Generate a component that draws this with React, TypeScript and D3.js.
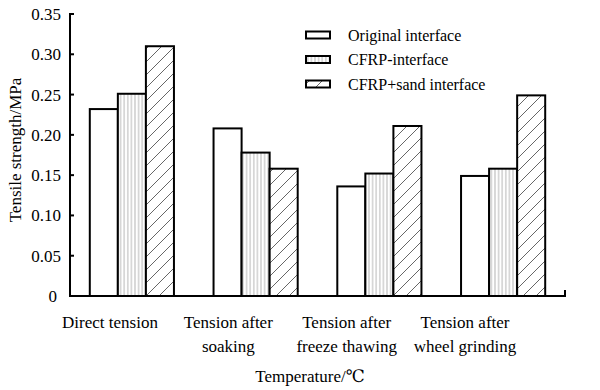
import React, { useEffect, useRef } from 'react';
import * as d3 from 'd3';

const categories = [
  ['Direct tension'],
  ['Tension after', 'soaking'],
  ['Tension after', 'freeze thawing'],
  ['Tension after', 'wheel grinding'],
];
const seriesNames = ['Original interface', 'CFRP-interface', 'CFRP+sand interface'];
const original = [0.232, 0.208, 0.136, 0.149];
const cfrp = [0.251, 0.178, 0.152, 0.158];
const cfrpSand = [0.31, 0.158, 0.211, 0.249];
const yTicks = [0, 0.05, 0.1, 0.15, 0.2, 0.25, 0.3, 0.35];

const W = 600;
const H = 390;
const FONT = "'Liberation Serif', 'DejaVu Serif', Times, serif";

export default function App() {
  const svgRef = useRef<SVGSVGElement>(null);

  useEffect(() => {
    if (!svgRef.current) return;
    const svg = d3.select(svgRef.current);
    svg.selectAll('*').remove();

    const left = 70, right = 565, top = 14, bottom = 296;
    const series = [original, cfrp, cfrpSand];
    const fills = ['#fff', 'url(#vlines)', 'url(#diag)'];

    // patterns for bar fills
    const defs = svg.append('defs');
    const vp = defs.append('pattern')
      .attr('id', 'vlines')
      .attr('patternUnits', 'userSpaceOnUse')
      .attr('width', 3.6).attr('height', 10);
    vp.append('rect').attr('width', 3.6).attr('height', 10).attr('fill', '#fff');
    vp.append('line')
      .attr('x1', 1.8).attr('y1', 0).attr('x2', 1.8).attr('y2', 10)
      .attr('stroke', '#aaa').attr('stroke-width', 0.9);

    const dp = defs.append('pattern')
      .attr('id', 'diag')
      .attr('patternUnits', 'userSpaceOnUse')
      .attr('width', 13).attr('height', 13);
    dp.append('rect').attr('width', 13).attr('height', 13).attr('fill', '#fff');
    dp.append('path')
      .attr('d', 'M-3,3 L3,-3 M0,13 L13,0 M10,16 L16,10')
      .attr('stroke', '#555').attr('stroke-width', 0.9);

    const x0 = d3.scaleBand<number>()
      .domain(d3.range(categories.length))
      .range([left, right])
      .paddingInner(0.32)
      .paddingOuter(0.16);
    const x1 = d3.scaleBand<number>()
      .domain(d3.range(series.length))
      .range([0, x0.bandwidth()]);
    const y = d3.scaleLinear().domain([0, 0.35]).range([bottom, top]);
    // category labels sit a little left of their bar groups in the original
    const xLabel = d3.scalePoint<number>()
      .domain(d3.range(categories.length))
      .range([110, 465]);

    // bars
    series.forEach((vals, si) => {
      svg.append('g')
        .selectAll('rect')
        .data(vals)
        .join('rect')
        .attr('x', (_, i) => (x0(i) as number) + (x1(si) as number))
        .attr('y', d => y(d))
        .attr('width', x1.bandwidth())
        .attr('height', d => bottom - y(d))
        .attr('fill', fills[si])
        .attr('stroke', '#000')
        .attr('stroke-width', 2);
    });

    // y axis
    svg.append('line')
      .attr('x1', left).attr('x2', left)
      .attr('y1', top - 1).attr('y2', bottom + 1)
      .attr('stroke', '#000').attr('stroke-width', 2);
    yTicks.forEach(t => {
      svg.append('line')
        .attr('x1', left).attr('x2', left + 4)
        .attr('y1', y(t)).attr('y2', y(t))
        .attr('stroke', '#000').attr('stroke-width', 2);
      svg.append('text')
        .attr('x', t === 0 ? 57 : 61).attr('y', y(t) + 6)
        .attr('text-anchor', 'end')
        .style('font-family', FONT).style('font-size', '17px')
        .text(t === 0 ? '0' : t.toFixed(2));
    });

    // x axis
    svg.append('line')
      .attr('x1', left - 1).attr('x2', right)
      .attr('y1', bottom).attr('y2', bottom)
      .attr('stroke', '#000').attr('stroke-width', 2);
    svg.append('line')
      .attr('x1', right).attr('x2', right)
      .attr('y1', bottom + 1).attr('y2', bottom - 6)
      .attr('stroke', '#000').attr('stroke-width', 2);

    // category labels
    categories.forEach((lines, i) => {
      const cx = xLabel(i) as number;
      lines.forEach((ln, j) => {
        svg.append('text')
          .attr('x', cx).attr('y', 328 + j * 24)
          .attr('text-anchor', 'middle')
          .style('font-family', FONT).style('font-size', '17px')
          .text(ln);
      });
    });

    // axis titles
    svg.append('text')
      .attr('x', 310).attr('y', 382)
      .attr('text-anchor', 'middle')
      .style('font-family', FONT).style('font-size', '17px')
      .text('Temperature/℃');
    svg.append('text')
      .attr('transform', 'translate(21,150) rotate(-90)')
      .attr('text-anchor', 'middle')
      .style('font-family', FONT).style('font-size', '17px')
      .text('Tensile strength/MPa');

    // legend
    seriesNames.forEach((name, i) => {
      const ly = 34.5 + i * 24.5;
      svg.append('rect')
        .attr('x', 306).attr('y', ly - 3)
        .attr('width', 24).attr('height', 7)
        .attr('fill', fills[i])
        .attr('stroke', '#000').attr('stroke-width', 2);
      svg.append('text')
        .attr('x', 348).attr('y', ly + 6)
        .style('font-family', FONT).style('font-size', '16px')
        .text(name);
    });
  }, []);

  return (
    <svg ref={svgRef} width={W} height={H}
      style={{ display: 'block', position: 'absolute', left: 0, top: 0, background: '#fff' }} />
  );
}
